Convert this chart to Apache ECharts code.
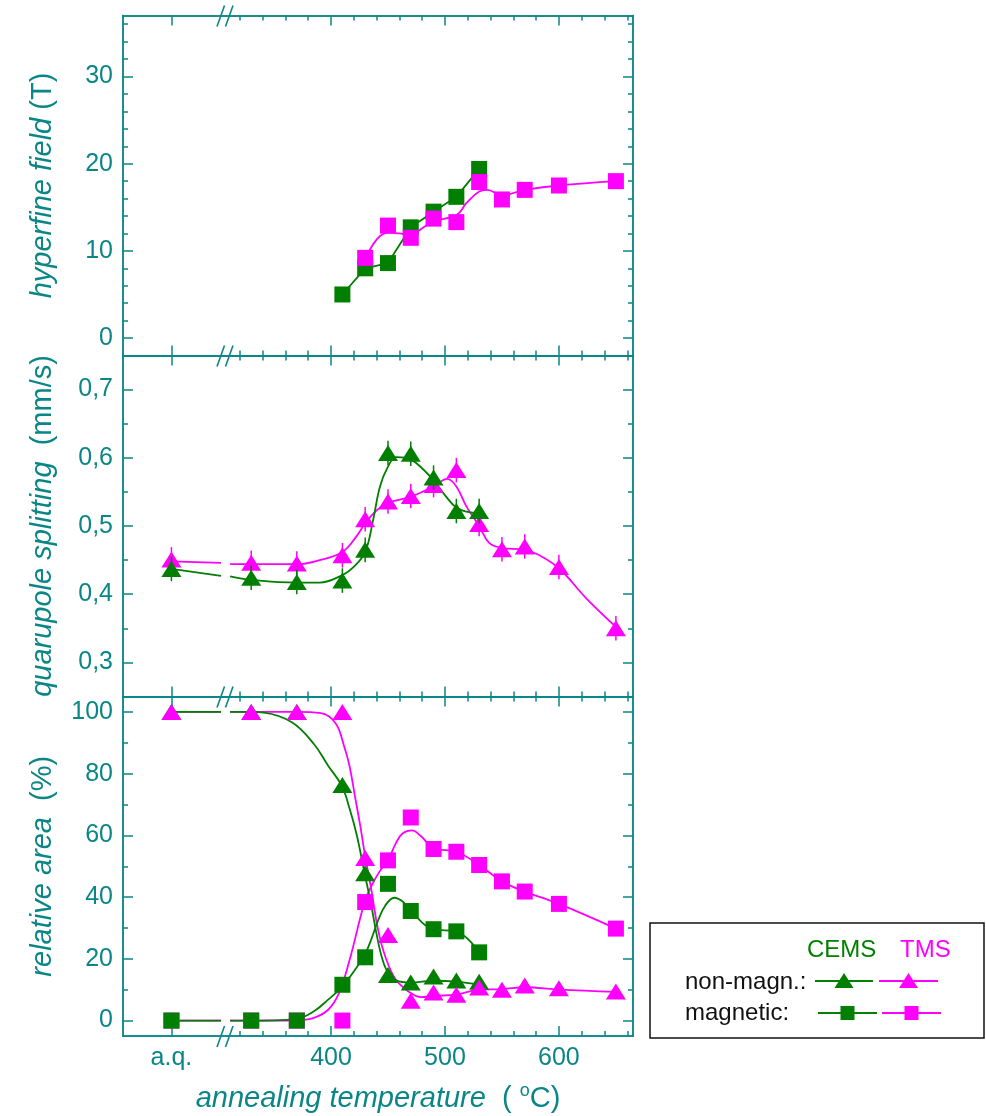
<!DOCTYPE html>
<html>
<head>
<meta charset="utf-8">
<script src="https://cdn.jsdelivr.net/npm/echarts@6/dist/echarts.min.js"></script>
<style>html,body{margin:0;padding:0;background:#fff}#c{width:986px;height:1116px}</style>
</head>
<body>
<div id="c"></div>
<script>
// ================= DATA =================
const AQ = 'a.q.';
// x-axis ticks
const xMajorTicks = [AQ, 400, 500, 600];
const xMinorTicks = [320, 340, 360, 380, 420, 440, 460, 480, 520, 540, 560, 580, 620, 640, 660];

// ---- panel 1: hyperfine field (T) ----
const hfMajor = [0, 10, 20, 30];
const hfMinor = [2, 4, 6, 8, 12, 14, 16, 18, 22, 24, 26, 28, 32, 34, 36];
const hfCemsT = [410, 430, 450, 470, 490, 510, 530];
const hfCems  = [5.0, 8.0, 8.6, 12.7, 14.5, 16.2, 19.4];
const hfTmsT  = [430, 450, 470, 490, 510, 530, 550, 570, 600, 650];
const hfTms   = [9.2, 12.9, 11.5, 13.7, 13.3, 17.9, 15.9, 17.0, 17.5, 18.0];
const hfTmsFitT = [430, 440, 450, 460, 470, 480, 490, 510, 519, 530, 537, 550, 570, 600, 650];
const hfTmsFit  = [9.0, 11.3, 12.1, 12.0, 11.8, 12.6, 13.4, 14.1, 15.5, 16.8, 17.0, 16.4, 17.0, 17.5, 18.0];

// ---- panel 2: quadrupole splitting (mm/s) ----
const qsMajor = [0.3, 0.4, 0.5, 0.6, 0.7];
const qsMinor = [0.35, 0.45, 0.55, 0.65];
const qsCemsT = [AQ, 330, 370, 410, 430, 450, 470, 490, 510, 530];
const qsCems  = [0.437, 0.424, 0.418, 0.420, 0.465, 0.607, 0.606, 0.571, 0.522, 0.522];
const qsTmsT  = [AQ, 330, 370, 410, 430, 450, 470, 490, 510, 530, 550, 570, 600, 650];
const qsTms   = [0.451, 0.446, 0.445, 0.457, 0.510, 0.536, 0.544, 0.560, 0.582, 0.503, 0.466, 0.470, 0.440, 0.350];
const qsErr = 0.018;
const qsCemsFitT = [AQ, 303.5, 311.5, 330, 370, 390, 410, 420, 430, 437, 443, 450, 457, 466, 475, 490, 501, 510, 519, 530];
const qsCemsFit  = [0.437, 0.427, 0.426, 0.421, 0.417, 0.417, 0.428, 0.440, 0.462, 0.509, 0.558, 0.587, 0.601, 0.600, 0.592, 0.567, 0.543, 0.527, 0.521, 0.519];
const qsTmsFitT = [AQ, 303.5, 311.5, 330, 370, 390, 410, 422, 430, 440, 450, 470, 490, 502, 510, 519, 530, 539, 550, 570, 583, 600, 624, 650];
const qsTmsFit  = [0.448, 0.446, 0.444, 0.444, 0.444, 0.450, 0.462, 0.484, 0.504, 0.523, 0.534, 0.543, 0.558, 0.569, 0.558, 0.528, 0.500, 0.475, 0.468, 0.465, 0.457, 0.438, 0.394, 0.352];

// ---- panel 3: relative area (%) ----
const arMajor = [0, 20, 40, 60, 80, 100];
const arMinor = [10, 30, 50, 70, 90];
const arCemsT = [AQ, 330, 370, 410, 430, 450, 470, 490, 510, 530];
const arTmsT  = [AQ, 330, 370, 410, 430, 450, 470, 490, 510, 530, 550, 570, 600, 650];
const nmCems = [100, 100, 100, 76.3, 47.7, 14.8, 12.3, 14.3, 13.0, 12.6];
const nmTms  = [100, 100, 100, 100, 52.7, 27.7, 6.4, 9.1, 8.4, 10.7, 10.0, 11.4, 10.5, 9.4];
const mCems  = [0, 0, 0, 11.6, 20.5, 44.3, 35.5, 29.6, 28.9, 22.1];
const mTms   = [0, 0, 0, 0, 38.4, 51.9, 65.8, 55.6, 54.7, 50.4, 45.1, 41.8, 37.8, 29.8];
const nmCemsFitT = [AQ, 303.5, 311.5, 330, 341, 366, 385, 397.5, 409.4, 416.3, 422.6, 429.5, 435, 440, 445, 450, 457, 470, 490, 510, 530];
const nmCemsFit  = [100, 100, 100, 100, 99.8, 96.6, 89.6, 82.6, 76.1, 68.7, 60.1, 47.7, 38, 28, 20, 15.5, 13.0, 12.3, 12.9, 12.6, 11.6];
const nmTmsFitT = [AQ, 303.5, 311.5, 330, 370, 391, 404, 411.6, 416.3, 421, 425.7, 429.5, 435, 441.4, 447.7, 457, 470, 479, 490, 510, 530, 550, 570, 600, 650];
const nmTmsFit  = [100, 100, 100, 100, 100, 99.6, 96.3, 88.8, 82.4, 72.7, 63.1, 54.3, 43.2, 29.3, 20.7, 13.2, 8.9, 7.6, 8.0, 8.4, 10.0, 10.2, 10.8, 10.0, 9.3];
const mCemsFitT = [AQ, 303.5, 311.5, 330, 369, 385, 397.5, 410, 420, 429.5, 435, 441.4, 447.7, 455.6, 463.4, 470, 490, 510, 530];
const mCemsFit  = [0, 0, 0, 0, 0.5, 3.0, 6.8, 11.0, 15.9, 21.2, 26, 32.5, 37.3, 39.8, 38.4, 35.5, 29.6, 28.9, 22.1];
const mTmsFitT = [AQ, 303.5, 311.5, 330, 369, 385, 397.5, 407, 416.3, 429.5, 436, 443, 450, 457, 463, 471, 479, 490, 510, 530, 550, 570, 600, 650];
const mTmsFit  = [0, 0, 0, 0, 0.1, 0.9, 3.5, 8.9, 19.6, 38.4, 44, 48.5, 52, 57.5, 60.7, 61.6, 59.7, 55.9, 54.7, 50.4, 45.1, 41.8, 37.8, 29.8];

// ================= LAYOUT / STYLE =================
const AQ_POS = 260;      // where "a.q." sits on the temperature scale
const BREAK = 307;       // axis break position
const X_MIN = 217.5, X_MAX = 665;
const TEAL = '#0b8686', GREEN = '#007f00', MAG = '#ff00ff';
const FF = "'Liberation Sans', Arial, sans-serif";
const GRID_LEFT = 123, GRID_W = 510;
const grids = [
  {top: 15.5, height: 340},
  {top: 355.5, height: 341},
  {top: 696.5, height: 339.5}
];

const pos = t => (t === AQ ? AQ_POS : t);
function linePts(ts, vs) {
  const out = [];
  for (let i = 0; i < vs.length; i++) {
    const x = pos(ts[i]);
    if (i > 0 && pos(ts[i - 1]) < BREAK && x > BREAK) out.push([BREAK, '-']);
    out.push([x, vs[i]]);
  }
  return out;
}
const markPts = (ts, vs) => vs.map((v, i) => [pos(ts[i]), v]);

const axLine = {show: true, onZero: false, lineStyle: {color: TEAL, width: 1.5}};
function xAx(g, position, ticks, len, withLabels) {
  return {
    type: 'value', gridIndex: g, position, min: X_MIN, max: X_MAX,
    axisLine: axLine,
    axisTick: {show: true, inside: true, length: len, customValues: ticks.map(pos), lineStyle: {color: TEAL, width: 1.5}},
    axisLabel: withLabels ? {
      show: true, customValues: xMajorTicks.map(pos), margin: 10,
      color: TEAL, fontSize: 25, fontFamily: FF,
      formatter: v => (v === AQ_POS ? AQ : String(v))
    } : {show: false},
    splitLine: {show: false},
    name: withLabels ? '{i|annealing temperature}{n|  ( }{s|o}{n|C)}' : '',
    nameLocation: 'middle', nameGap: 46,
    nameTextStyle: {
      color: TEAL, fontSize: 29, fontFamily: FF,
      rich: {
        i: {fontStyle: 'italic', fontSize: 29, color: TEAL, fontFamily: FF, lineHeight: 34},
        n: {fontSize: 29, color: TEAL, fontFamily: FF, lineHeight: 34},
        s: {fontSize: 18, color: TEAL, fontFamily: FF, verticalAlign: 'top', lineHeight: 30}
      }
    }
  };
}
function yAx(g, position, range, ticks, len, labelFmt, name) {
  return {
    type: 'value', gridIndex: g, position, min: range[0], max: range[1],
    axisLine: axLine,
    axisTick: {show: true, inside: true, length: len, customValues: ticks, lineStyle: {color: TEAL, width: 1.5}},
    axisLabel: labelFmt ? {show: true, customValues: ticks, margin: 10, color: TEAL, fontSize: 25, fontFamily: FF, formatter: labelFmt} : {show: false},
    splitLine: {show: false},
    name: name || '', nameLocation: 'middle', nameGap: 66, nameRotate: 90,
    nameTextStyle: {
      color: TEAL, fontSize: 29, fontFamily: FF,
      rich: {
        i: {fontStyle: 'italic', fontSize: 29, color: TEAL, fontFamily: FF},
        n: {fontSize: 29, color: TEAL, fontFamily: FF}
      }
    }
  };
}

const yRanges = [[-2, 37], [0.25, 0.75], [-5, 105]];
const yMajors = [hfMajor, qsMajor, arMajor];
const yMinors = [hfMinor, qsMinor, arMinor];
const yFmts = [v => String(v), v => v.toFixed(1).replace('.', ','), v => String(v)];
const yNames = ['{i|hyperfine field} {n|(T)}', '{i|quarupole splitting}  {n|(mm/s)}', '{i|relative area}  {n|(%)}'];

const xAxes = [], yAxes = [];
for (let g = 0; g < 3; g++) {
  xAxes.push(xAx(g, 'bottom', xMajorTicks, 10, g === 2));
  xAxes.push(xAx(g, 'bottom', xMinorTicks, 5, false));
  xAxes.push(xAx(g, 'top', xMajorTicks, 10, false));
  xAxes.push(xAx(g, 'top', xMinorTicks, 5, false));
  yAxes.push(yAx(g, 'left', yRanges[g], yMajors[g], 10, yFmts[g], yNames[g]));
  yAxes.push(yAx(g, 'left', yRanges[g], yMinors[g], 5, null, null));
  yAxes.push(yAx(g, 'right', yRanges[g], yMajors[g], 10, null, null));
  yAxes.push(yAx(g, 'right', yRanges[g], yMinors[g], 5, null, null));
}

function fit(g, ts, vs, color, smooth, z) {
  return {
    type: 'line', xAxisIndex: g * 4, yAxisIndex: g * 4, data: linePts(ts, vs),
    smooth: smooth ? 0.4 : false, showSymbol: false, silent: true,
    lineStyle: {color, width: 1.8}, z: z || 2, animation: false
  };
}
function marks(g, ts, vs, color, shape, z) {
  return {
    type: 'scatter', xAxisIndex: g * 4, yAxisIndex: g * 4, data: markPts(ts, vs),
    symbol: shape === 'sq' ? 'rect' : 'triangle',
    symbolSize: shape === 'sq' ? 16 : [20, 16],
    itemStyle: {color, opacity: 1}, z: z || 4, silent: true, animation: false
  };
}
function errs(g, ts, vs, err, color, z) {
  return {
    type: 'custom', xAxisIndex: g * 4, yAxisIndex: g * 4, data: markPts(ts, vs),
    encode: {x: 0, y: 1}, silent: true, z: z || 3, animation: false,
    renderItem: (params, api) => {
      const x = api.value(0), v = api.value(1);
      const a = api.coord([x, v - err]), b = api.coord([x, v + err]);
      return {type: 'line', shape: {x1: a[0], y1: a[1], x2: b[0], y2: b[1]}, style: {stroke: color, lineWidth: 1.5}};
    }
  };
}

const series = [
  // panel 1
  fit(0, hfCemsT, hfCems, GREEN, false, 2),
  fit(0, hfTmsFitT, hfTmsFit, MAG, true, 2),
  marks(0, hfCemsT, hfCems, GREEN, 'sq', 4),
  marks(0, hfTmsT, hfTms, MAG, 'sq', 5),
  // panel 2
  fit(1, qsTmsFitT, qsTmsFit, MAG, true, 2),
  fit(1, qsCemsFitT, qsCemsFit, GREEN, true, 2),
  errs(1, qsTmsT, qsTms, qsErr, MAG, 3),
  marks(1, qsTmsT, qsTms, MAG, 'tri', 4),
  errs(1, qsCemsT, qsCems, qsErr, GREEN, 5),
  marks(1, qsCemsT, qsCems, GREEN, 'tri', 6),
  // panel 3
  fit(2, mTmsFitT, mTmsFit, MAG, true, 2),
  fit(2, nmTmsFitT, nmTmsFit, MAG, true, 2),
  fit(2, mCemsFitT, mCemsFit, GREEN, true, 2),
  fit(2, nmCemsFitT, nmCemsFit, GREEN, true, 2),
  marks(2, arTmsT, mTms, MAG, 'sq', 4),
  marks(2, arCemsT, mCems, GREEN, 'sq', 5),
  marks(2, arCemsT, nmCems, GREEN, 'tri', 6),
  marks(2, arTmsT, nmTms, MAG, 'tri', 7)
];

const chart = echarts.init(document.getElementById('c'), null, {renderer: 'canvas'});
chart.setOption({
  animation: false,
  backgroundColor: '#fff',
  grid: grids.map(gr => ({left: GRID_LEFT, width: GRID_W, top: gr.top, height: gr.height, containLabel: false})),
  xAxis: xAxes,
  yAxis: yAxes,
  series
});

// ---- decorations: axis-break marks and legend box ----
const bx = chart.convertToPixel({xAxisIndex: 0}, BREAK);
const borderYs = [grids[0].top, grids[1].top, grids[2].top, grids[2].top + grids[2].height];
const gfx = [];
borderYs.forEach(y => {
  gfx.push({type: 'line', shape: {x1: bx - 0.5, y1: y - 10, x2: bx - 8, y2: y + 11}, style: {stroke: TEAL, lineWidth: 1.6}, z: 100});
  gfx.push({type: 'line', shape: {x1: bx + 8, y1: y - 10, x2: bx + 0.5, y2: y + 11}, style: {stroke: TEAL, lineWidth: 1.6}, z: 100});
});
// legend
const LX = 650, LY = 923;
gfx.push({type: 'rect', shape: {x: LX, y: LY, width: 334, height: 115}, style: {fill: '#fff', stroke: '#111', lineWidth: 1.5}, z: 100});
const txt = (x, y, s, color) => ({type: 'text', x, y, style: {text: s, fill: color, font: `24px ${FF}`, textVerticalAlign: 'middle'}, z: 101});
gfx.push(txt(807, 950, 'CEMS', GREEN));
gfx.push(txt(900, 950, 'TMS', MAG));
gfx.push(txt(685, 982, 'non-magn.:', '#111'));
gfx.push(txt(685, 1013, 'magnetic:', '#111'));
function legItem(x1, x2, y, color, shape) {
  gfx.push({type: 'line', shape: {x1, y1: y, x2, y2: y}, style: {stroke: color, lineWidth: 1.8}, z: 101});
  const cx = (x1 + x2) / 2;
  if (shape === 'sq') {
    gfx.push({type: 'rect', shape: {x: cx - 7, y: y - 7, width: 14, height: 14}, style: {fill: color}, z: 102});
  } else {
    gfx.push({type: 'polygon', shape: {points: [[cx, y - 8], [cx + 9.5, y + 7], [cx - 9.5, y + 7]]}, style: {fill: color}, z: 102});
  }
}
legItem(815, 873, 981, GREEN, 'tri');
legItem(879, 938, 981, MAG, 'tri');
legItem(818, 877, 1013, GREEN, 'sq');
legItem(882, 941, 1013, MAG, 'sq');
chart.setOption({graphic: {elements: gfx}});
</script>
</body>
</html>
